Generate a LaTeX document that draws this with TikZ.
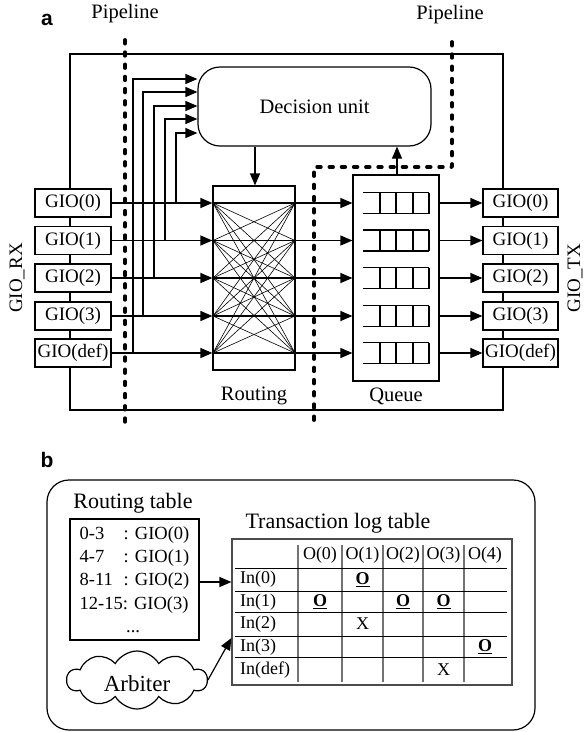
\documentclass[tikz,border=0pt]{standalone}
\usepackage{fontspec}
\setmainfont{Liberation Serif}
\newfontfamily\lblfont{Liberation Sans}
\usetikzlibrary{arrows.meta,shapes.symbols,calc}
\newcommand\fsz[1]{\fontsize{#1pt}{#1pt}\selectfont}
\begin{document}
\begin{tikzpicture}[x=1pt,y=-1pt,
  lw/.style={line width=1.2pt},
  box/.style={draw, lw, fill=white, inner sep=0pt},
  gio/.style={box, minimum width=76pt, minimum height=28pt, font=\fsz{19}},
  arr/.style={lw, -{Triangle[length=12pt,width=10pt]}},
  pipe/.style={line width=3.8pt, dash pattern=on 3.6pt off 8.6pt, line cap=round, line join=round},
  xbar/.style={line width=0.6pt},
  lbl/.style={font=\fsz{20.5}, inner sep=0pt},
  panel/.style={font=\lblfont\bfseries\fsz{21}, inner sep=0pt},
  cell/.style={font=\fsz{18}, inner sep=0pt},
  vsep/.style={draw=black!55, line width=1.6pt},
  hsep/.style={line width=1pt}
]
\useasboundingbox (0,0) rectangle (585,732);

% ---------- panel a ----------
\node[panel] (pa) at (47,20) {a};
\node[lbl] (pl1) at (125,14) {Pipeline};
\node[lbl] (pl2) at (450,15) {Pipeline};

% outer box
\draw[lw] (70,54) rectangle (503,410);

% decision unit
\node[draw, lw, rounded corners=22pt, minimum width=233pt, minimum height=79pt, font=\fsz{20.5}] (dec) at (314.5,106.5) {Decision unit};

% routing and queue
\node[draw, lw, minimum width=82pt, minimum height=184pt, fill=white] (routing) at (254,278) {};
\node[draw, lw, minimum width=86pt, minimum height=206pt] (queue) at (396,278) {};
\node[lbl] (routinglbl) at (254,396) {Routing};
\node[lbl] (queuelbl) at (396,396) {Queue};

% crossbar
\foreach \a in {203,240.5,278,316,353}{
  \foreach \b in {203,240.5,278,316,353}{
    \draw[xbar] (213,\a) -- (295,\b);
  }
  \draw[lw] (213,\a) -- (295,\a);
}

% GIO boxes
\foreach \n/\y in {0/203,1/240.5,2/278,3/316,def/353}{
  \node[gio] (rx\n) at (73,\y) {GIO(\n)};
  \node[gio, minimum width=75pt] (tx\n) at (520.5,\y) {GIO(\n)};
  \draw[arr] (rx\n.east) -- (routing.west |- rx\n);
  \draw[arr] (routing.east |- rx\n) -- (queue.west |- rx\n);
  \draw[arr] (queue.east |- tx\n) -- (tx\n.west);
  % queue cells
  \draw[lw] (363,\y-10.5) -- (429,\y-10.5);
  \draw[lw] (363,\y+10.5) -- (429,\y+10.5);
  \foreach \cx in {380,396,413,429}{
    \draw[lw] (\cx,\y-10.5) -- (\cx,\y+10.5);
  }
}

% branches to decision unit
\foreach \n/\bx/\ty in {0/176/133,1/165/119,2/154/106,3/143/92,def/133/79}{
  \draw[arr] (\bx,0 |- rx\n) |- (dec.west |- 0,\ty);
}

% decision <-> routing/queue
\draw[arr] (255,0 |- dec.south) -- (255,0 |- routing.north);
\draw[arr] (397,0 |- queue.north) -- (397,0 |- dec.south);

% side labels
\node[font=\fsz{19}, rotate=90, inner sep=0pt] (rxlbl) at (17,278) {GIO\_RX};
\node[font=\fsz{19}, rotate=90, inner sep=0pt] (txlbl) at (575,278) {GIO\_TX};

% pipelines
\draw[pipe] (125,40) -- (125,428);
\draw[pipe] (452,42) -- (452,167) -- (314,167) -- (314,423);

% ---------- panel b ----------
\node[panel] (pb) at (47,460) {b};
\draw[lw, rounded corners=22pt] (47,480) rectangle (535,730);

\node[font=\fsz{22}, inner sep=0pt] (rttitle) at (133,503) {Routing table};
\node[draw, lw, minimum width=129pt, minimum height=121pt, inner sep=0pt, align=left,
      font=\fontsize{18.5pt}{23.3pt}\selectfont] (rt) at (134.5,579.5)
  {\makebox[44pt][l]{0-3}: GIO(0)\\
   \makebox[44pt][l]{4-7}: GIO(1)\\
   \makebox[44pt][l]{8-11}: GIO(2)\\
   12-15: GIO(3)\\
   \makebox[107pt][c]{...}};

\node[font=\fsz{22}, inner sep=0pt] (tltitle) at (338,523) {Transaction log table};
\node[draw=black!70, lw, minimum width=280pt, minimum height=146pt, inner sep=0pt] (tlt) at (372,612) {};
\foreach \vx in {298,342,383,423,464}{
  \draw[vsep] (\vx,545) -- (\vx,682);
}
\foreach \hy in {568,591,612.5,636,657}{
  \draw[hsep] (235,\hy) -- (507,\hy);
}
\foreach \k/\cx in {0/320,1/362.5,2/403,3/443.5,4/485}{
  \node[cell] (h\k) at (\cx,555) {O(\k)};
}
\foreach \n/\ry in {0/579.5,1/602,2/624,3/647,def/670}{
  \node[cell, anchor=west] (in\n) at (240,\ry) {In(\n)};
}
\node[cell] (e01) at (362.5,579.5) {\underline{\textbf{O}}};
\node[cell] (e10) at (320,602) {\underline{\textbf{O}}};
\node[cell] (e12) at (403,602) {\underline{\textbf{O}}};
\node[cell] (e13) at (443.5,602) {\underline{\textbf{O}}};
\node[cell] (e21) at (362.5,624) {X};
\node[cell] (e34) at (485,647) {\underline{\textbf{O}}};
\node[cell] (ed3) at (443.5,670) {X};

\node[cloud, draw, lw, cloud puffs=10, cloud puff arc=120, minimum width=140pt, minimum height=58pt, inner sep=0pt] (arb) at (137,680) {};
\node[font=\fsz{23}, inner sep=0pt] (arblbl) at (137,684) {Arbiter};

\draw[arr] (rt.east |- 0,582) -- (tlt.west |- 0,582);
\draw[arr] (arb.east) -- (tlt.west |- 0,638);
\end{tikzpicture}
\end{document}
